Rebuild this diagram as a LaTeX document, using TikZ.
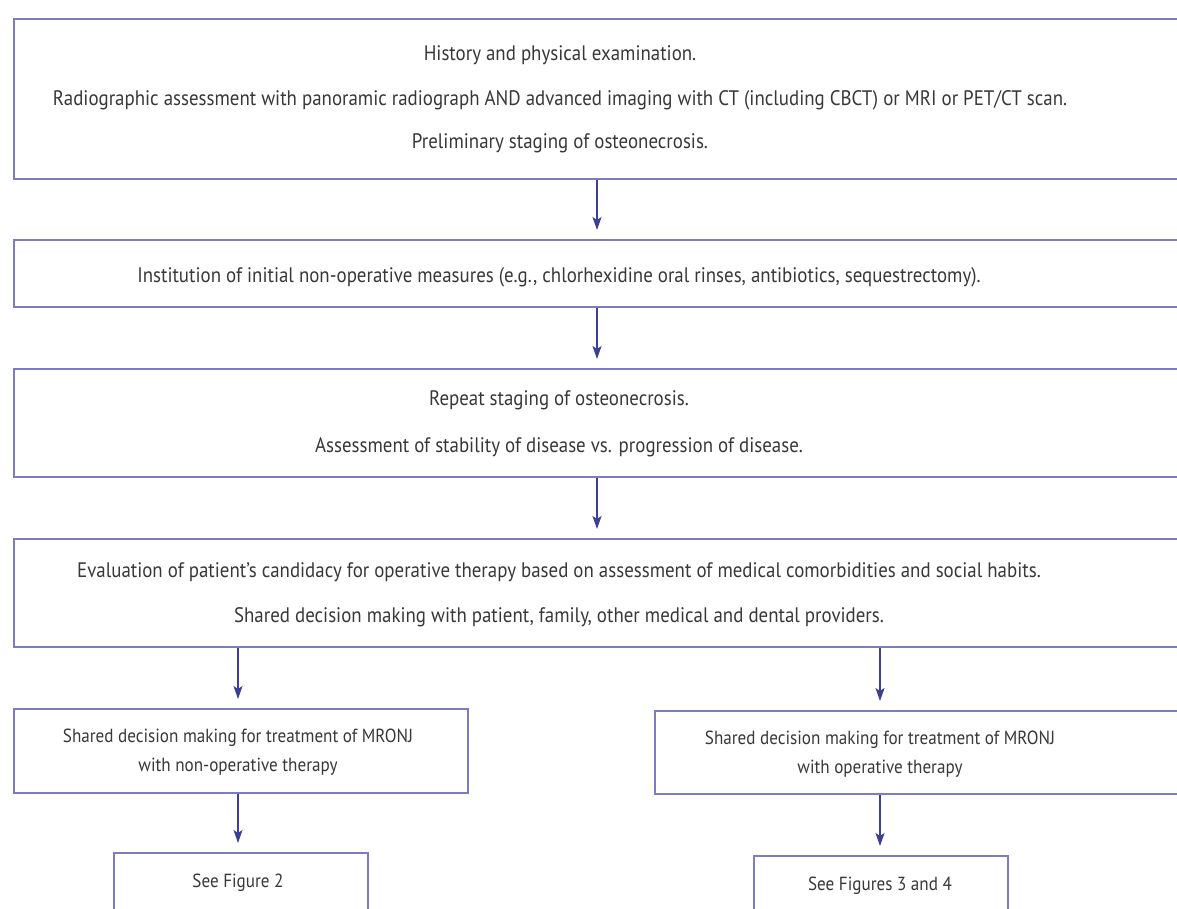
\documentclass[tikz,border=0pt]{standalone}
\usepackage{fontspec}
\setmainfont[FakeStretch=0.9]{PT Sans}
\usetikzlibrary{arrows.meta}
\definecolor{boxc}{HTML}{7C7CC6}
\definecolor{arrc}{HTML}{3B3F99}
\definecolor{txtc}{HTML}{383838}
\tikzset{
  boxn/.style={draw=boxc, line width=2pt, rectangle, inner sep=0pt, anchor=north west},
  txt/.style={text=txtc, font=\fontsize{21}{26}\selectfont, inner sep=0pt, align=center},
  txts/.style={text=txtc, font=\fontsize{19}{29}\selectfont, inner sep=0pt, align=center},
  arr/.style={draw=arrc, line width=1.4pt, -{Stealth[length=13pt,width=9pt,inset=3pt]}, shorten >=9pt}
}
\begin{document}
\begin{tikzpicture}[x=1pt,y=-1pt]
\useasboundingbox (0,0) rectangle (1177,908);
\clip (0,0) rectangle (1177,908);
\fill[white] (0,0) rectangle (1177,908);
% boxes
\node[boxn, minimum width=1182pt, minimum height=160pt] (b1) at (13,18) {};
\node[boxn, minimum width=1182pt, minimum height=67pt] (b2) at (13,239) {};
\node[boxn, minimum width=1182pt, minimum height=108pt] (b3) at (13,368) {};
\node[boxn, minimum width=1182pt, minimum height=108pt] (b4) at (13,538) {};
\node[boxn, minimum width=454pt, minimum height=84pt] (b5) at (13,708) {};
\node[boxn, minimum width=540pt, minimum height=83pt] (b6) at (654,710) {};
\node[boxn, minimum width=254pt, minimum height=80pt] (b7) at (113,852) {};
\node[boxn, minimum width=254pt, minimum height=80pt] (b8) at (753,855) {};
% texts
\node[txt] (t1a) at (560,55) {History and physical examination.};
\node[txt] (t1b) at (560,100) {Radiographic assessment with panoramic radiograph AND advanced imaging with CT (including CBCT) or MRI or PET/CT scan.};
\node[txt] (t1c) at (560,143) {Preliminary staging of osteonecrosis.};
\node[txt] (t2) at (559,277) {Institution of initial non-operative measures (e.g., chlorhexidine oral rinses, antibiotics, sequestrectomy).};
\node[txt] (t3a) at (559,400) {Repeat staging of osteonecrosis.};
\node[txt] (t3b) at (559,447) {Assessment of stability of disease vs. progression of disease.};
\node[txt] (t4a) at (559,572) {Evaluation of patient's candidacy for operative therapy based on assessment of medical comorbidities and social habits.};
\node[txt] (t4b) at (559,617) {Shared decision making with patient, family, other medical and dental providers.};
\node[txts] (t5) at (238,752) {Shared decision making for treatment of MRONJ\\with non-operative therapy};
\node[txts] (t6) at (880,754) {Shared decision making for treatment of MRONJ\\with operative therapy};
\node[txts] (t7) at (238,883) {See Figure 2};
\node[txts] (t8) at (880,886) {See Figures 3 and 4};
% arrow guides
\coordinate (mx) at (597,0);
\coordinate (lx) at (238,0);
\coordinate (rx) at (880,0);
\draw[arr] (b1.south -| mx) -- (b2.north -| mx);
\draw[arr] (b2.south -| mx) -- (b3.north -| mx);
\draw[arr] (b3.south -| mx) -- (b4.north -| mx);
\draw[arr] (b4.south -| lx) -- (b5.north -| lx);
\draw[arr] (b4.south -| rx) -- (b6.north -| rx);
\draw[arr] (b5.south -| lx) -- (b7.north -| lx);
\draw[arr] (b6.south -| rx) -- (b8.north -| rx);
\end{tikzpicture}
\end{document}
